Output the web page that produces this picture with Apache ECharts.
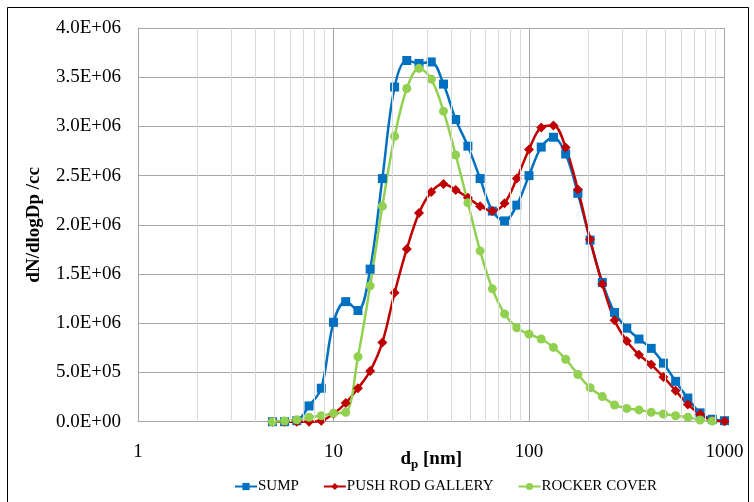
<!DOCTYPE html>
<html lang="en">
<head>
    <meta charset="UTF-8">
    <title>Particle size distribution</title>
</head>
<body style="margin:0;background:#fff;">
<div id="main" style="width:754px;height:502px;"></div>
<script src="https://cdn.jsdelivr.net/npm/echarts@6/dist/echarts.min.js"></script>
<script>
    // particle diameter, nm
    var dp = [4.87, 5.62, 6.49, 7.50, 8.66, 10.0, 11.55, 13.34, 15.40, 17.78,
        20.54, 23.71, 27.38, 31.62, 36.52, 42.17, 48.70, 56.23, 64.94, 74.99,
        86.60, 100.0, 115.48, 133.35, 153.99, 177.83, 205.35, 237.14, 273.84, 316.23,
        365.17, 421.70, 486.97, 562.34, 649.38, 749.89, 865.96, 1000];

    // dN/dlogDp /cc
    var sump = [0, 0, 10000, 160000, 340000, 1010000, 1220000, 1130000, 1550000, 2470000,
        3400000, 3670000, 3640000, 3655000, 3430000, 3070000, 2800000, 2470000, 2140000, 2040000,
        2200000, 2500000, 2790000, 2890000, 2720000, 2320000, 1845000, 1415000, 1110000, 950000,
        840000, 745000, 595000, 410000, 240000, 90000, 25000, 10000];

    var pushRod = [0, 0, 0, 0, 10000, 80000, 190000, 340000, 515000, 805000,
        1310000, 1755000, 2120000, 2335000, 2415000, 2355000, 2275000, 2190000, 2140000, 2220000,
        2470000, 2765000, 2990000, 3010000, 2785000, 2360000, 1850000, 1400000, 1030000, 820000,
        680000, 580000, 455000, 315000, 175000, 75000, 15000, 5000];

    var rocker = [0, 7000, 20000, 45000, 60000, 85000, 95000, 660000, 1380000, 2190000,
        2900000, 3385000, 3590000, 3480000, 3155000, 2710000, 2225000, 1735000, 1350000, 1095000,
        955000, 890000, 840000, 755000, 635000, 480000, 345000, 255000, 170000, 135000,
        120000, 95000, 78000, 60000, 45000, 17000, 7000, null];

    // minor vertical gridlines of the log axis
    var minorX = [2, 3, 4, 5, 6, 7, 8, 9, 20, 30, 40, 50, 60, 70, 80, 90,
        200, 300, 400, 500, 600, 700, 800, 900];

    function pairs(ys) {
        var out = [];
        for (var i = 0; i < dp.length; i++) {
            out.push([dp[i], ys[i]]);
        }
        return out;
    }

    function sci(v) {
        if (v === 0) return '0.0E+00';
        var e = Math.floor(Math.log10(v) + 1e-9);
        var m = v / Math.pow(10, e);
        return m.toFixed(1) + 'E+' + (e < 10 ? '0' : '') + e;
    }

    var font = '"Liberation Serif", "Times New Roman", serif';
    var myChart = echarts.init(document.getElementById('main'));

    function lineSeries(name, ys, color, symbol, size) {
        return {
            name: name,
            type: 'line',
            data: pairs(ys),
            smooth: 0.35,
            symbol: symbol,
            symbolSize: size,
            z: 3,
            lineStyle: {color: color, width: 2.5},
            itemStyle: {color: color}
        };
    }

    var option = {
        animation: false,
        textStyle: {fontFamily: font, color: '#000'},
        graphic: [{
            type: 'rect',
            shape: {x: 7.5, y: 7.5, width: 741, height: 500},
            style: {fill: 'none', stroke: '#000', lineWidth: 1},
            silent: true,
            z: -1
        }],
        grid: {left: 138, top: 28, right: 29.5, bottom: 80.3},
        legend: {
            left: 229,
            top: 474,
            itemWidth: 22,
            itemHeight: 9,
            itemGap: 24,
            textStyle: {fontFamily: font, fontSize: 15, color: '#000', padding: [0, 0, 0, -4]},
            data: ['SUMP', 'PUSH ROD GALLERY', 'ROCKER COVER']
        },
        xAxis: {
            type: 'log',
            logBase: 10,
            min: 1,
            max: 1000,
            name: '{b|d}{s|p}{b| [nm]}',
            nameLocation: 'middle',
            nameGap: 26,
            nameMoveOverlap: false,
            nameTextStyle: {
                rich: {
                    b: {fontFamily: font, fontSize: 19, fontWeight: 'bold', color: '#000'},
                    s: {fontFamily: font, fontSize: 13, fontWeight: 'bold', color: '#000', padding: [10, 0, 0, 0]}
                }
            },
            axisLine: {show: true, lineStyle: {color: '#a6a6a6', width: 1}},
            axisTick: {show: false},
            axisLabel: {
                fontFamily: font, fontSize: 19, color: '#000', margin: 21,
                formatter: function (v) { return String(Math.round(v)); }
            },
            splitLine: {show: true, lineStyle: {color: '#a6a6a6', width: 1}}
        },
        yAxis: {
            type: 'value',
            min: 0,
            max: 4000000,
            interval: 500000,
            name: 'dN/dlogDp /cc',
            nameLocation: 'middle',
            nameGap: 94,
            nameMoveOverlap: false,
            nameTextStyle: {fontFamily: font, fontSize: 19, fontWeight: 'bold', color: '#000'},
            axisLine: {show: true, lineStyle: {color: '#a6a6a6', width: 1}},
            axisTick: {show: false},
            axisLabel: {fontFamily: font, fontSize: 19, color: '#000', margin: 17, formatter: sci},
            splitLine: {show: true, lineStyle: {color: '#a6a6a6', width: 1}}
        },
        series: [
            {
                name: 'minor',
                type: 'line',
                data: [],
                z: 1,
                silent: true,
                markLine: {
                    silent: true,
                    symbol: 'none',
                    label: {show: false},
                    lineStyle: {color: '#d9d9d9', type: 'solid', width: 1},
                    data: minorX.map(function (v) { return {xAxis: v}; })
                }
            },
            lineSeries('SUMP', sump, '#0070C0', 'rect', 9),
            lineSeries('PUSH ROD GALLERY', pushRod, '#C00000', 'diamond', 10),
            lineSeries('ROCKER COVER', rocker, '#92D050', 'circle', 9)
        ]
    };

    myChart.setOption(option);
</script>
</body>
</html>
